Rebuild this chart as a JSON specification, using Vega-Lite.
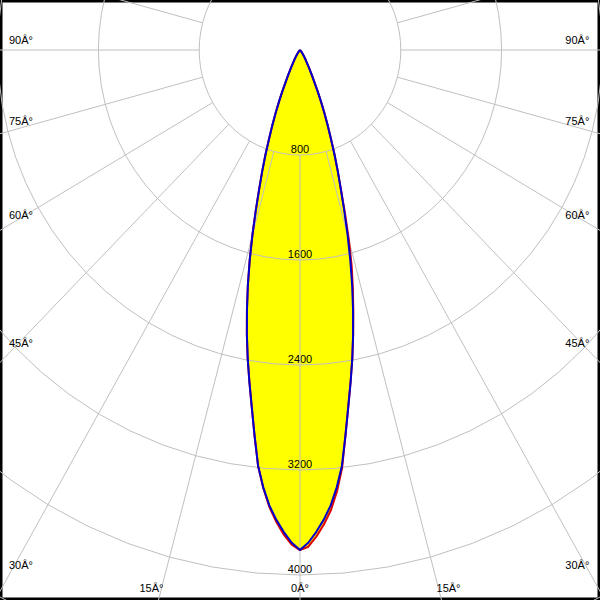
{
  "$schema": "https://vega.github.io/schema/vega-lite/v6.json",
  "width": 600,
  "height": 600,
  "autosize": {"type": "fit", "contains": "padding"},
  "padding": 0,
  "background": "white",
  "view": {"stroke": "black", "strokeWidth": 5},
  "datasets": {
    "lobe": [
      {"g": 0, "C0": 3810, "C90": 3810, "C180": 3810, "C270": 3810},
      {"g": 1, "C0": 3785, "C90": 3755, "C180": 3770, "C270": 3755},
      {"g": 2, "C0": 3710, "C90": 3675, "C180": 3695, "C270": 3675},
      {"g": 3, "C0": 3620, "C90": 3585, "C180": 3600, "C270": 3585},
      {"g": 4, "C0": 3515, "C90": 3480, "C180": 3490, "C270": 3480},
      {"g": 5, "C0": 3375, "C90": 3345, "C180": 3350, "C270": 3345},
      {"g": 6, "C0": 3200, "C90": 3185, "C180": 3185, "C270": 3185},
      {"g": 7, "C0": 2960, "C90": 2960, "C180": 2960, "C270": 2960},
      {"g": 8, "C0": 2750, "C90": 2750, "C180": 2750, "C270": 2750},
      {"g": 9, "C0": 2565, "C90": 2565, "C180": 2565, "C270": 2565},
      {"g": 10, "C0": 2390, "C90": 2390, "C180": 2390, "C270": 2390},
      {"g": 11, "C0": 2210, "C90": 2210, "C180": 2210, "C270": 2210},
      {"g": 12, "C0": 2035, "C90": 2025, "C180": 2025, "C270": 2025},
      {"g": 13, "C0": 1865, "C90": 1840, "C180": 1840, "C270": 1840},
      {"g": 14, "C0": 1695, "C90": 1650, "C180": 1650, "C270": 1650},
      {"g": 15, "C0": 1500, "C90": 1460, "C180": 1460, "C270": 1460},
      {"g": 16, "C0": 1295, "C90": 1275, "C180": 1275, "C270": 1275},
      {"g": 17, "C0": 1110, "C90": 1110, "C180": 1110, "C270": 1110},
      {"g": 18, "C0": 970, "C90": 970, "C180": 970, "C270": 970},
      {"g": 19, "C0": 840, "C90": 840, "C180": 840, "C270": 840},
      {"g": 20, "C0": 715, "C90": 715, "C180": 715, "C270": 715},
      {"g": 21, "C0": 610, "C90": 610, "C180": 610, "C270": 610},
      {"g": 22, "C0": 515, "C90": 515, "C180": 515, "C270": 515},
      {"g": 23, "C0": 425, "C90": 425, "C180": 425, "C270": 425},
      {"g": 24, "C0": 345, "C90": 345, "C180": 345, "C270": 345},
      {"g": 25, "C0": 270, "C90": 270, "C180": 270, "C270": 270},
      {"g": 26, "C0": 220, "C90": 220, "C180": 220, "C270": 220},
      {"g": 27, "C0": 180, "C90": 180, "C180": 180, "C270": 180},
      {"g": 28, "C0": 150, "C90": 150, "C180": 150, "C270": 150},
      {"g": 29, "C0": 120, "C90": 120, "C180": 120, "C270": 120},
      {"g": 30, "C0": 100, "C90": 100, "C180": 100, "C270": 100},
      {"g": 32, "C0": 72, "C90": 72, "C180": 72, "C270": 72},
      {"g": 34, "C0": 50, "C90": 50, "C180": 50, "C270": 50},
      {"g": 36, "C0": 35, "C90": 35, "C180": 35, "C270": 35},
      {"g": 38, "C0": 24, "C90": 24, "C180": 24, "C270": 24},
      {"g": 40, "C0": 16, "C90": 16, "C180": 16, "C270": 16},
      {"g": 45, "C0": 6, "C90": 6, "C180": 6, "C270": 6},
      {"g": 50, "C0": 2, "C90": 2, "C180": 2, "C270": 2},
      {"g": 55, "C0": 0, "C90": 0, "C180": 0, "C270": 0},
      {"g": 90, "C0": 0, "C90": 0, "C180": 0, "C270": 0}
    ],
    "rings": [
      {"ring": [800, 1600, 2400, 3200, 4000, 4800],
       "ang": [0,5,10,15,20,25,30,35,40,45,50,55,60,65,70,75,80,85,90,95,100,105,110,115,120,125,130,135,140,145,150,155,160,165,170,175,180,185,190,195,200,205,210,215,220,225,230,235,240,245,250,255,260,265,270,275,280,285,290,295,300,305,310,315,320,325,330,335,340,345,350,355,360]}
    ],
    "spokes": [
      {"a": 0}, {"a": 15}, {"a": 30}, {"a": 45}, {"a": 60}, {"a": 75},
      {"a": 90}, {"a": 105}, {"a": 120}, {"a": 135}, {"a": 150}, {"a": 165},
      {"a": 180}, {"a": 195}, {"a": 210}, {"a": 225}, {"a": 240}, {"a": 255},
      {"a": 270}, {"a": 285}, {"a": 300}, {"a": 315}, {"a": 330}, {"a": 345}
    ],
    "ringLabels": [
      {"I": 800, "t": "800"},
      {"I": 1600, "t": "1600"},
      {"I": 2400, "t": "2400"},
      {"I": 3200, "t": "3200"},
      {"I": 4000, "t": "4000"}
    ],
    "edgeLabels": [
      {"a": 90, "t": "90Â°"},
      {"a": 75, "t": "75Â°"},
      {"a": 60, "t": "60Â°"},
      {"a": 45, "t": "45Â°"},
      {"a": 30, "t": "30Â°"}
    ],
    "bottomLabels": [
      {"a": -15, "t": "15Â°"},
      {"a": 0, "t": "0Â°"},
      {"a": 15, "t": "15Â°"}
    ]
  },
  "layer": [
    {
      "data": {"name": "lobe"},
      "transform": [
        {"fold": ["C0", "C90", "C180", "C270"], "as": ["plane", "I"]},
        {"calculate": "datum.plane == 'C0' || datum.plane == 'C180' ? 'C0-C180' : 'C90-C270'", "as": "curve"},
        {"calculate": "datum.plane == 'C180' || datum.plane == 'C270' ? -datum.g : datum.g", "as": "sa"},
        {"calculate": "datum.I * sin(datum.sa * PI / 180)", "as": "px"},
        {"calculate": "-datum.I * cos(datum.sa * PI / 180)", "as": "py"}
      ],
      "mark": {"type": "line", "fill": "#ffff00", "strokeWidth": 0, "strokeOpacity": 0},
      "encoding": {
        "x": {"field": "px", "type": "quantitative", "scale": {"domain": [-2381, 2381], "nice": false, "zero": false}, "axis": null},
        "y": {"field": "py", "type": "quantitative", "scale": {"domain": [-4190.5, 381], "nice": false, "zero": false}, "axis": null},
        "detail": {"field": "curve", "type": "nominal"},
        "order": {"field": "sa", "type": "quantitative"}
      }
    },
    {
      "data": {"name": "ringLabels"},
      "transform": [{"calculate": "-datum.I", "as": "py"}],
      "mark": {"type": "text", "font": "Liberation Sans", "fontSize": 11, "color": "black", "baseline": "alphabetic", "align": "center", "dy": -2},
      "encoding": {
        "x": {"datum": 0, "type": "quantitative", "scale": {"domain": [-2381, 2381], "nice": false, "zero": false}, "axis": null},
        "y": {"field": "py", "type": "quantitative", "scale": {"domain": [-4190.5, 381], "nice": false, "zero": false}, "axis": null},
        "text": {"field": "t"}
      }
    },
    {
      "data": {"name": "rings"},
      "transform": [
        {"flatten": ["ring"]},
        {"flatten": ["ang"]},
        {"calculate": "datum.ring * sin(datum.ang * PI / 180)", "as": "px"},
        {"calculate": "-datum.ring * cos(datum.ang * PI / 180)", "as": "py"}
      ],
      "mark": {"type": "line", "stroke": "#c0c0c0", "strokeWidth": 1, "clip": true},
      "encoding": {
        "x": {"field": "px", "type": "quantitative", "scale": {"domain": [-2381, 2381], "nice": false, "zero": false}, "axis": null},
        "y": {"field": "py", "type": "quantitative", "scale": {"domain": [-4190.5, 381], "nice": false, "zero": false}, "axis": null},
        "detail": {"field": "ring", "type": "nominal"},
        "order": {"field": "ang", "type": "quantitative"}
      }
    },
    {
      "data": {"name": "spokes"},
      "transform": [
        {"calculate": "800 * sin(datum.a * PI / 180)", "as": "px"},
        {"calculate": "-800 * cos(datum.a * PI / 180)", "as": "py"},
        {"calculate": "8000 * sin(datum.a * PI / 180)", "as": "qx"},
        {"calculate": "-8000 * cos(datum.a * PI / 180)", "as": "qy"}
      ],
      "mark": {"type": "rule", "stroke": "#c0c0c0", "strokeWidth": 1, "clip": true},
      "encoding": {
        "x": {"field": "px", "type": "quantitative", "scale": {"domain": [-2381, 2381], "nice": false, "zero": false}, "axis": null},
        "y": {"field": "py", "type": "quantitative", "scale": {"domain": [-4190.5, 381], "nice": false, "zero": false}, "axis": null},
        "x2": {"field": "qx"},
        "y2": {"field": "qy"}
      }
    },
    {
      "data": {"name": "lobe"},
      "transform": [
        {"fold": ["C0", "C180"], "as": ["plane", "I"]},
        {"calculate": "datum.plane == 'C180' ? -datum.g : datum.g", "as": "sa"},
        {"calculate": "datum.I * sin(datum.sa * PI / 180)", "as": "px"},
        {"calculate": "-datum.I * cos(datum.sa * PI / 180)", "as": "py"}
      ],
      "mark": {"type": "line", "stroke": "#e00000", "strokeWidth": 2, "strokeJoin": "round"},
      "encoding": {
        "x": {"field": "px", "type": "quantitative", "scale": {"domain": [-2381, 2381], "nice": false, "zero": false}, "axis": null},
        "y": {"field": "py", "type": "quantitative", "scale": {"domain": [-4190.5, 381], "nice": false, "zero": false}, "axis": null},
        "order": {"field": "sa", "type": "quantitative"}
      }
    },
    {
      "data": {"name": "lobe"},
      "transform": [
        {"fold": ["C90", "C270"], "as": ["plane", "I"]},
        {"calculate": "datum.plane == 'C270' ? -datum.g : datum.g", "as": "sa"},
        {"calculate": "datum.I * sin(datum.sa * PI / 180)", "as": "px"},
        {"calculate": "-datum.I * cos(datum.sa * PI / 180)", "as": "py"}
      ],
      "mark": {"type": "line", "stroke": "#0000cc", "strokeWidth": 2, "strokeJoin": "round"},
      "encoding": {
        "x": {"field": "px", "type": "quantitative", "scale": {"domain": [-2381, 2381], "nice": false, "zero": false}, "axis": null},
        "y": {"field": "py", "type": "quantitative", "scale": {"domain": [-4190.5, 381], "nice": false, "zero": false}, "axis": null},
        "order": {"field": "sa", "type": "quantitative"}
      }
    },
    {
      "data": {"name": "edgeLabels"},
      "transform": [{"calculate": "-2310 * cos(datum.a * PI / 180) / sin(datum.a * PI / 180)", "as": "py"}],
      "mark": {"type": "text", "font": "Liberation Sans", "fontSize": 11, "color": "black", "baseline": "alphabetic", "align": "left", "dy": -6},
      "encoding": {
        "x": {"datum": -2310, "type": "quantitative", "scale": {"domain": [-2381, 2381], "nice": false, "zero": false}, "axis": null},
        "y": {"field": "py", "type": "quantitative", "scale": {"domain": [-4190.5, 381], "nice": false, "zero": false}, "axis": null},
        "text": {"field": "t"}
      }
    },
    {
      "data": {"name": "edgeLabels"},
      "transform": [{"calculate": "-2310 * cos(datum.a * PI / 180) / sin(datum.a * PI / 180)", "as": "py"}],
      "mark": {"type": "text", "font": "Liberation Sans", "fontSize": 11, "color": "black", "baseline": "alphabetic", "align": "right", "dy": -6},
      "encoding": {
        "x": {"datum": 2296, "type": "quantitative", "scale": {"domain": [-2381, 2381], "nice": false, "zero": false}, "axis": null},
        "y": {"field": "py", "type": "quantitative", "scale": {"domain": [-4190.5, 381], "nice": false, "zero": false}, "axis": null},
        "text": {"field": "t"}
      }
    },
    {
      "data": {"name": "bottomLabels"},
      "transform": [{"calculate": "4175 * tan(datum.a * PI / 180) + (datum.a < 0 ? -60 : datum.a > 0 ? 60 : 0)", "as": "px"}],
      "mark": {"type": "text", "font": "Liberation Sans", "fontSize": 11, "color": "black", "baseline": "alphabetic", "align": "center"},
      "encoding": {
        "x": {"field": "px", "type": "quantitative", "scale": {"domain": [-2381, 2381], "nice": false, "zero": false}, "axis": null},
        "y": {"datum": -4133, "type": "quantitative", "scale": {"domain": [-4190.5, 381], "nice": false, "zero": false}, "axis": null},
        "text": {"field": "t"}
      }
    }
  ]
}
